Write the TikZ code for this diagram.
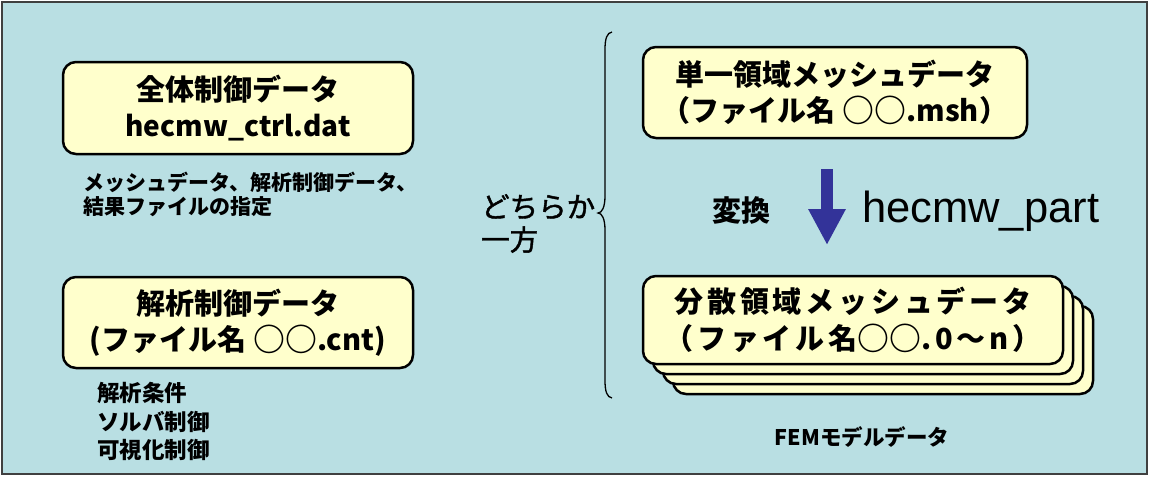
\documentclass[tikz,border=0pt]{standalone}
\usepackage{fontspec}
\setmainfont{Noto Sans CJK JP}
\newfontfamily\arialfont{Liberation Sans}
\usetikzlibrary{arrows.meta}
\definecolor{bgblue}{HTML}{B9DFE3}
\definecolor{boxyellow}{HTML}{FFFFCC}
\definecolor{arrowblue}{HTML}{333399}
\newcommand\fnamecirc{\raisebox{-0.8pt}{\scalebox{1.1}{○}}}
\begin{document}
\begin{tikzpicture}[x=1pt,y=-1pt,
  frame/.style={draw=black!75, line width=1.6pt, fill=bgblue, inner sep=0pt},
  databox/.style={draw=black, line width=2.5pt, fill=boxyellow, rounded corners=13pt,
    align=center, inner sep=0pt, font=\fontsize{29}{36}\selectfont\bfseries},
  note/.style={align=left, anchor=west, inner sep=0pt},
  conv/.style={-{Triangle[width=35pt,length=36pt]}, line width=12pt, draw=arrowblue, fill=arrowblue}]
\useasboundingbox (0,0) rectangle (1152,479);
\node[frame, minimum width=1145pt, minimum height=472pt] (frm) at (574.5,238) {};
% left boxes
\node[databox, minimum width=350pt, minimum height=92pt] (ctrl) at (238,108)
  {全体制御データ\\{\fontsize{28}{36}\selectfont hecmw\_ctrl.dat}};
\node[note, font=\fontsize{21}{23.5}\selectfont\bfseries] (ctrlnote) at (83,194.5)
  {メッシュデータ、解析制御データ、\\結果ファイルの指定};
\node[databox, minimum width=350pt, minimum height=91pt] (cnt) at (238,322.5)
  {解析制御データ\\(ファイル名 \fnamecirc\fnamecirc.cnt)};
\node[note, font=\fontsize{22.5}{28.5}\selectfont\bfseries] (cntnote) at (97,421.5)
  {解析条件\\ソルバ制御\\可視化制御};
% either-one label and brace
\node[note, font=\fontsize{28.5}{33}\selectfont\addfontfeature{FakeBold=1.5}] (either) at (481,223.5) {どちらか\\一方};
\draw[line width=1.3pt] (612,32) .. controls (607,33) and (605,38) .. (605,50)
  -- (605,196) .. controls (605,207) and (602,213) .. (598,213)
  .. controls (602,213) and (605,219) .. (605,230)
  -- (605,380) .. controls (605,392) and (607,397) .. (612,398);
% right boxes
\node[databox, minimum width=384pt, minimum height=91pt] (msh) at (835,92.5)
  {単一領域メッシュデータ\\（ファイル名 \fnamecirc\fnamecirc.msh）};
\foreach \d in {30,20,10}{
  \node[databox, minimum width=420pt, minimum height=88pt] at (853+\d,320+\d) {};
}
\node[databox, minimum width=420pt, minimum height=88pt,
  font=\fontsize{29}{37}\selectfont\bfseries\addfontfeature{LetterSpace=13}] (dist) at (853,320)
  {分散領域メッシュデータ\\（ファイル名\fnamecirc\fnamecirc.0～n）};
% conversion arrow
\coordinate (arrtop) at (827,169);
\coordinate (arrtip) at (827,245);
\draw[conv] (arrtop) -- (arrtip);
\node[font=\fontsize{29}{34}\selectfont\bfseries, inner sep=0pt] (henkan) at (741,210) {変換};
\node[font=\arialfont\fontsize{43.5}{50}\selectfont, anchor=base west, inner sep=0pt] (part) at (862,222) {hecmw\_part};
\node[font=\fontsize{21.5}{24}\selectfont\bfseries, inner sep=0pt] (fem) at (862,437) {FEMモデルデータ};
\end{tikzpicture}
\end{document}
